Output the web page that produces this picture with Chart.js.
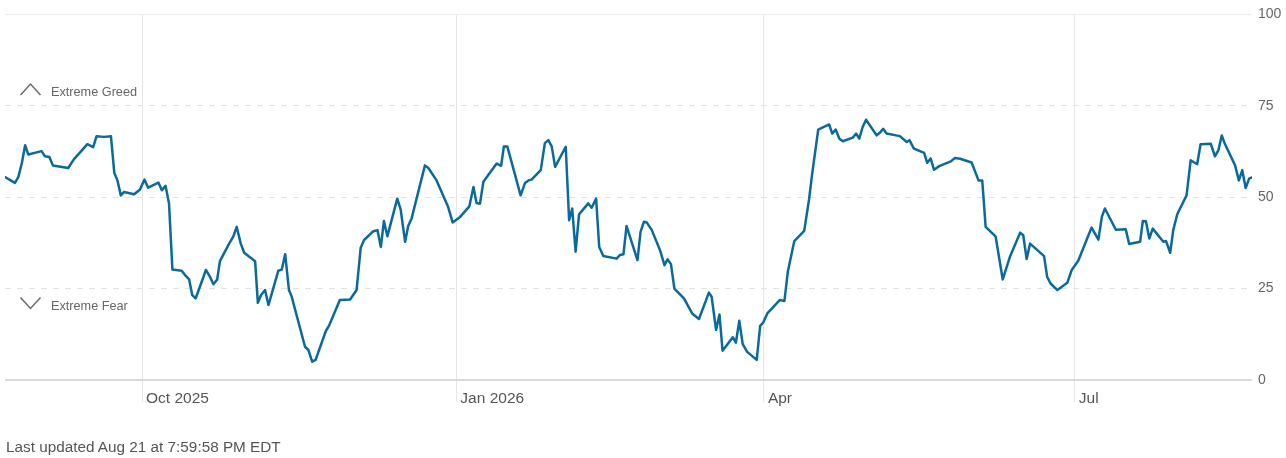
<!DOCTYPE html>
<html>
<head>
<meta charset="utf-8">
<script src="https://cdn.jsdelivr.net/npm/chart.js@4.4.1/dist/chart.umd.min.js"></script>
<style>
html,body{margin:0;padding:0;background:#fff;}
#wrap{position:relative;width:1286px;height:458px;overflow:hidden;}
#c{position:absolute;left:0;top:0;}
#foot{position:absolute;left:6px;top:439px;font:15.3px/1 "Liberation Sans",Arial,sans-serif;color:#555;white-space:nowrap;}
</style>
</head>
<body>
<div id="wrap">
<canvas id="c" width="1286" height="458"></canvas>
<div id="foot">Last updated Aug 21 at 7:59:58 PM EDT</div>
</div>
<script>
// Days counted from 1 Oct 2025
const days = [-40.1,-37.2,-36.2,-35.2,-34.2,-33.3,-29.4,-28.4,-27.1,-26.1,
-21.6,-19.9,-17.6,-16.0,-14.3,-13.3,-11.1,-9.1,-8.1,-7.2,
-6.2,-5.3,-2.3,-0.6,0.7,1.8,4.8,5.8,6.9,7.9,
8.9,11.6,12.6,13.8,14.7,15.7,18.7,19.9,20.9,22.0,
22.8,25.5,26.7,27.7,28.9,29.9,33.1,33.9,34.8,36.0,
37.0,39.9,40.9,41.9,43.0,43.8,47.7,48.7,49.8,50.8,
53.8,54.7,57.9,60.9,62.8,64.0,65.0,67.7,68.9,69.9,
70.8,71.8,74.7,75.7,77.0,77.9,78.9,82.8,83.8,86.2,
89.6,90.9,93.1,95.8,97.0,97.9,98.9,99.9,103.8,105.1,
105.9,106.9,110.8,112.1,113.1,114.0,116.7,117.9,118.9,119.9,
120.9,124.0,125.0,125.9,126.9,127.9,130.6,131.6,132.9,133.8,
135.0,138.9,139.9,140.9,141.8,145.0,145.9,146.9,147.7,149.2,
151.6,152.9,153.8,154.8,155.8,158.6,161.0,163.0,165.9,166.7,
168.0,169.0,169.9,172.9,173.8,174.8,175.8,177.1,179.9,180.9,
181.8,183.0,186.7,188.0,189.0,190.9,193.8,195.2,196.2,197.9,
201.1,202.0,203.0,204.1,205.1,208.0,209.0,209.9,210.9,211.9,
215.0,216.0,216.9,217.9,221.8,223.8,224.6,225.9,228.9,229.8,
230.8,231.8,233.3,236.7,237.9,239.4,242.8,244.8,245.9,246.9,
249.8,251.9,254.0,257.0,257.9,258.9,259.9,264.0,264.9,265.9,
267.9,270.8,272.1,274.0,277.9,279.9,280.9,281.8,285.0,287.9,
288.9,292.1,292.9,293.8,294.8,295.8,298.9,299.7,300.9,301.8,
303.0,305.7,306.9,308.8,309.8,312.8,314.0,315.0,316.0,316.9,
319.9,321.0,322.0,323.0,324.0,324.8];

const values = [55.5,53.9,55.5,59.2,64.2,61.7,62.6,61.2,61.0,58.7,
58.0,60.4,62.8,64.5,63.7,66.7,66.5,66.7,56.6,54.6,
50.5,51.4,50.8,52.1,54.8,52.6,54.0,51.9,53.1,48.3,
30.2,29.9,28.7,27.5,23.2,22.3,30.1,28.2,26.2,27.5,
32.5,37.3,39.2,41.9,37.3,34.8,32.5,21.1,23.2,24.6,
20.5,29.9,30.2,34.4,24.6,22.8,9.1,8.2,5.0,5.5,
13.4,14.8,21.9,22.0,24.6,36.2,38.3,40.7,41.0,36.4,
43.5,39.3,49.6,46.6,37.8,42.1,44.2,58.7,58.0,54.6,
47.3,43.1,44.6,47.5,52.8,48.4,48.2,54.2,59.2,58.6,
63.9,63.9,50.5,53.9,54.6,54.8,57.4,64.8,65.6,63.9,
58.3,63.8,43.7,46.9,35.1,45.3,48.3,47.1,49.6,36.4,
33.9,33.2,34.2,34.4,42.1,32.8,40.5,43.3,43.1,41.0,
35.5,31.4,33.0,31.7,25.0,22.3,18.2,16.7,23.9,22.8,
13.7,17.9,8.0,11.7,10.2,16.2,9.8,7.7,5.5,14.8,
15.7,18.2,21.9,21.6,29.6,38.0,40.8,49.3,56.9,68.5,
69.9,67.4,68.5,66.0,65.3,66.3,67.4,66.0,69.2,71.2,
66.9,67.7,68.7,67.4,66.7,65.1,65.6,63.3,62.1,59.4,
60.6,57.5,58.5,59.8,60.7,60.5,59.5,54.6,54.6,41.9,
39.3,27.5,33.7,40.3,39.6,33.1,37.3,33.9,28.2,26.4,
24.6,26.6,30.1,32.6,41.7,38.4,44.6,46.9,41.1,41.2,
37.2,37.8,43.5,43.4,38.7,41.4,37.8,38.0,34.8,41.0,
45.4,50.5,60.1,59.0,64.5,64.6,61.2,62.8,66.9,64.6,
58.7,54.6,57.4,52.5,55.1,55.4];

const xTickDays = [0, 92, 182, 273];
const xTickLabels = ['Oct 2025', 'Jan 2026', 'Apr', 'Jul'];
const yTickValues = [0, 25, 50, 75, 100];
const zoneLabels = ['Extreme Greed', 'Extreme Fear'];

const FONT = '"Liberation Sans", Arial, Helvetica, sans-serif';

const zonePlugin = {
  id: 'zones',
  afterDraw(chart) {
    const ctx = chart.ctx;
    ctx.save();
    ctx.strokeStyle = '#6b6b6b';
    ctx.lineWidth = 1.5;
    ctx.lineJoin = 'miter';
    ctx.beginPath();
    ctx.moveTo(20.5, 95); ctx.lineTo(30.5, 84); ctx.lineTo(40.5, 95);
    ctx.stroke();
    ctx.beginPath();
    ctx.moveTo(20.5, 297.5); ctx.lineTo(30.5, 308.5); ctx.lineTo(40.5, 297.5);
    ctx.stroke();
    ctx.fillStyle = '#666';
    ctx.font = '12.7px ' + FONT;
    ctx.textAlign = 'left';
    ctx.textBaseline = 'middle';
    ctx.fillText(zoneLabels[0], 51, 92);
    ctx.fillText(zoneLabels[1], 51, 306);
    ctx.restore();
  }
};

new Chart(document.getElementById('c'), {
  type: 'line',
  data: {
    datasets: [{
      data: days.map((d, i) => ({x: d, y: values[i]})),
      borderColor: '#0a6a9b',
      borderWidth: 2.5,
      pointRadius: 0,
      pointHoverRadius: 0,
      tension: 0,
      fill: false,
      borderJoinStyle: 'round',
      borderCapStyle: 'round'
    }]
  },
  options: {
    responsive: false,
    animation: false,
    devicePixelRatio: 1,
    layout: {padding: {left: 5, top: 14, right: 0, bottom: 0}},
    plugins: {legend: {display: false}, tooltip: {enabled: false}, title: {display: false}},
    scales: {
      x: {
        type: 'linear',
        min: -40.1,
        max: 324.85,
        afterBuildTicks: (s) => { s.ticks = xTickDays.map(v => ({value: v})); },
        afterFit: (s) => { s.height = 78; },
        ticks: {
          autoSkip: false,
          maxRotation: 0,
          align: 'start',
          labelOffset: 4,
          padding: -13,
          color: '#555',
          font: {family: FONT, size: 15.5},
          callback: (v, i) => xTickLabels[i]
        },
        grid: {
          color: '#e6e6e6',
          lineWidth: 1,
          drawTicks: true,
          tickLength: 22,
          tickColor: '#e6e6e6',
          tickWidth: 1
        },
        border: {display: false}
      },
      y: {
        position: 'right',
        min: 0,
        max: 100,
        afterBuildTicks: (s) => { s.ticks = yTickValues.map(v => ({value: v})); },
        afterFit: (s) => { s.width = 34; },
        ticks: {
          padding: 6,
          color: '#666',
          font: {family: FONT, size: 14}
        },
        grid: {
          drawTicks: false,
          color: (c) => c.tick && c.tick.value === 0 ? '#dadada' : (c.tick && c.tick.value === 100 ? '#ededed' : '#e2e2e2'),
          lineWidth: (c) => c.tick && c.tick.value === 0 ? 2 : 1
        },
        border: {
          display: false,
          dash: (c) => (c.tick && c.tick.value > 0 && c.tick.value < 100) ? [6, 6] : []
        }
      }
    }
  },
  plugins: [zonePlugin]
});
</script>
</body>
</html>
